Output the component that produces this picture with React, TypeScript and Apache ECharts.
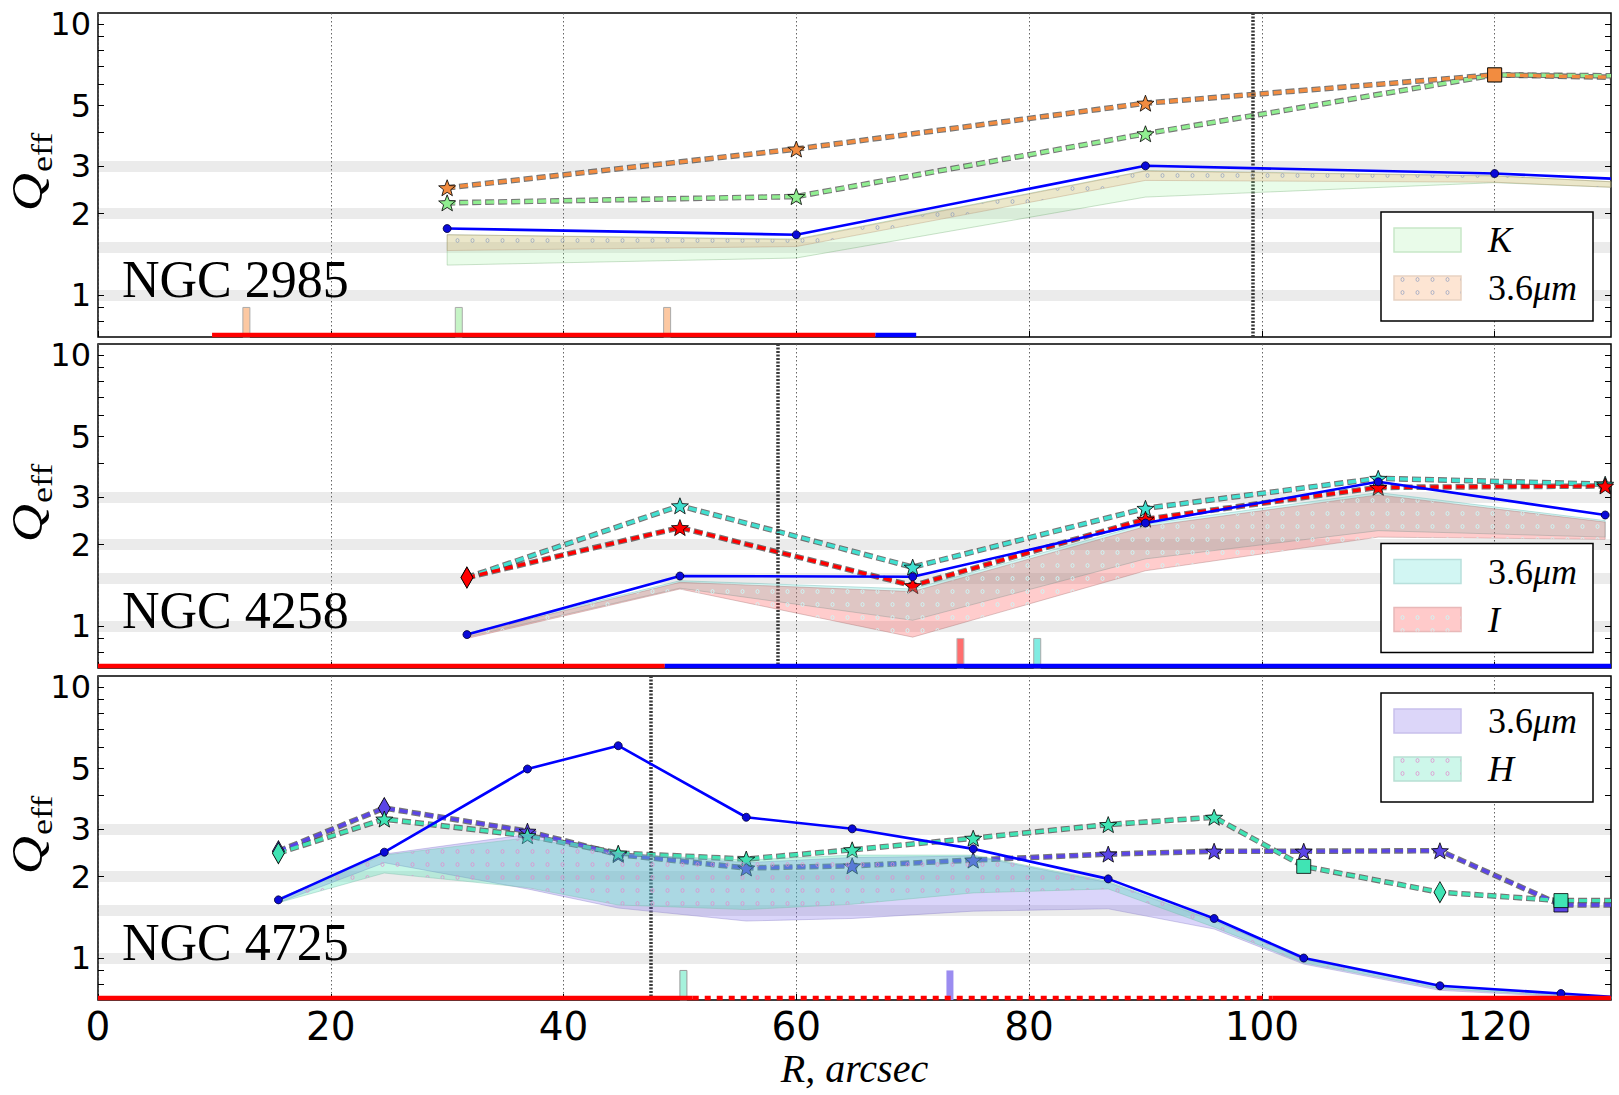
import React, { useEffect, useRef } from "react";
import * as echarts from "echarts";

// ---------------- data ----------------
const xTickValues = [0, 20, 40, 60, 80, 100, 120];
const yLabelValues = [1, 2, 3, 5, 10];
const yTickValues = [0.8, 0.9, 1, 2, 3, 4, 5, 6, 7, 8, 9, 10];
const refLevels = [1, 1.5, 2, 3];
const galaxyNames = ["NGC 2985", "NGC 4258", "NGC 4725"];
const Y_MIN = 0.7;
const Y_MAX = 11;
const X_MAX = 130;
const STRIP_Q = 0.712;
const BAR_TOP = 0.9;

// NGC 2985
const r2985 = [30, 60, 90, 120, 130];
const gas2985 = [1.76, 1.67, 3.0, 2.81, 2.69];
const gasSym2985 = ["circle", "circle", "circle", "circle", "none"];
const mu36_2985 = [2.49, 3.46, 5.11, 6.5, 6.37];
const k2985 = [2.19, 2.31, 3.94, 6.5, 6.45];
const sym2985 = ["star", "star", "star", "rect", "none"];
const bandK2985Lo = [1.29, 1.37, 2.3, 2.6, 2.5];
const bandK2985Hi = [1.67, 1.61, 2.88, 2.76, 2.62];
const band36_2985Lo = [1.46, 1.51, 2.65, 2.61, 2.5];
const band36_2985Hi = [1.67, 1.6, 2.87, 2.75, 2.62];
const bars2985_36 = [12.75, 48.9];
const bars2985_K = [31.0];
const strip2985Red = [9.8, 66.8];
const strip2985Blue = [66.8, 70.3];
const corot2985 = 99.2;

// NGC 4258
const r4258 = [31.7, 50, 70, 90, 110, 129.5];
const gas4258 = [0.93, 1.53, 1.52, 2.4, 3.41, 2.57];
const gasSym4258 = ["circle", "circle", "circle", "circle", "circle", "circle"];
const mu36_4258 = [1.51, 2.78, 1.65, 2.72, 3.51, 3.34];
const i4258 = [1.51, 2.31, 1.41, 2.48, 3.25, 3.29];
const sym4258 = ["diamond", "star", "star", "star", "star", "star"];
const band36_4258Lo = [0.91, 1.38, 1.05, 1.77, 2.25, 2.13];
const band36_4258Hi = [0.94, 1.47, 1.37, 2.38, 3.11, 2.45];
const bandI4258Lo = [0.9, 1.37, 0.91, 1.6, 2.13, 2.09];
const bandI4258Hi = [0.93, 1.45, 1.34, 2.33, 3.05, 2.42];
const bars4258_I = [74.1];
const bars4258_36 = [80.7];
const strip4258Red = [0, 48.7];
const strip4258Blue = [48.7, 130];
const corot4258 = 58.4;

// NGC 4725
const r4725 = [15.5, 24.6, 36.9, 44.7, 55.7, 64.8, 75.2, 86.8, 95.9, 103.6, 115.3, 125.7, 130];
const gas4725 = [1.64, 2.46, 4.99, 6.08, 3.31, 3.0, 2.53, 1.96, 1.4, 1.0, 0.79, 0.74, 0.72];
const gasSym4725 = ["circle", "circle", "circle", "circle", "circle", "circle", "circle", "circle", "circle", "circle", "circle", "circle", "none"];
const mu36_4725 = [2.48, 3.58, 2.94, 2.41, 2.15, 2.19, 2.3, 2.42, 2.48, 2.48, 2.49, 1.57, 1.57];
const sym36_4725 = ["diamond", "diamond", "star", "star", "star", "star", "star", "star", "star", "star", "star", "rect", "none"];
const h4725 = [2.44, 3.26, 2.83, 2.44, 2.32, 2.51, 2.77, 3.11, 3.31, 2.18, 1.75, 1.63, 1.63];
const symH4725 = ["diamond", "star", "star", "star", "star", "star", "star", "star", "star", "rect", "diamond", "rect", "none"];
const band36_4725Lo = [1.6, 2.25, 1.8, 1.53, 1.37, 1.4, 1.49, 1.52, 1.28, 0.95, 0.76, 0.72, 0.705];
const band36_4725Hi = [1.66, 2.42, 2.86, 2.44, 2.25, 2.35, 2.38, 1.9, 1.37, 0.99, 0.79, 0.735, 0.72];
const bandH4725Lo = [1.6, 2.06, 1.82, 1.57, 1.51, 1.58, 1.74, 1.8, 1.3, 0.96, 0.77, 0.725, 0.71];
const bandH4725Hi = [1.66, 2.4, 2.78, 2.42, 2.3, 2.4, 2.4, 1.92, 1.38, 0.99, 0.79, 0.735, 0.72];
const bars4725_H = [50.3];
const bars4725_36 = [73.2];
const strip4725Red = [0, 51.1];
const strip4725Dash = [51.1, 100.9];
const strip4725Red2 = [100.9, 130];
const corot4725 = 47.5;

// ---------------- layout ----------------
const G_LEFT = 98;
const G_W = 1513;
const G_TOPS = [13, 344, 676];
const G_H = 324;
const LEGEND_TOPS = [212, 543.5, 693];
const LEGEND_LEFT = 1381;

const STAR = (() => {
  let d = "";
  for (let k = 0; k < 10; k++) {
    const r = k % 2 === 0 ? 1 : 0.42;
    const a = -Math.PI / 2 + (k * Math.PI) / 5;
    d += (k === 0 ? "M" : "L") + (r * Math.cos(a)).toFixed(4) + "," + (r * Math.sin(a)).toFixed(4) + " ";
  }
  return "path://" + d + "Z";
})();

function symOf(s: string) {
  return s === "star" ? STAR : s;
}
function sizeOf(s: string): any {
  if (s === "star") return [17, 16];
  if (s === "diamond") return [12, 21];
  if (s === "rect") return [14, 14];
  if (s === "circle") return 8;
  return 0;
}

function makeDots(color: string) {
  const c = document.createElement("canvas");
  c.width = 15;
  c.height = 13;
  const ctx = c.getContext("2d")!;
  ctx.strokeStyle = color;
  ctx.lineWidth = 1;
  ctx.beginPath();
  ctx.ellipse(7.5, 6.5, 1.5, 2, 0, 0, Math.PI * 2);
  ctx.stroke();
  return { image: c, repeat: "repeat", imageWidth: 15, imageHeight: 13 } as any;
}

export default function App() {
  const ref = useRef<HTMLDivElement>(null);

  useEffect(() => {
    document.body.style.margin = "0";
    const chart = echarts.init(ref.current!, null as any, { renderer: "svg" });

    const dots2985 = makeDots("rgba(130,150,190,0.6)");
    const dots4258 = makeDots("rgba(205,245,245,0.95)");
    const dots4725 = makeDots("rgba(225,140,205,0.75)");

    const grids = G_TOPS.map((t) => ({
      left: G_LEFT,
      top: t,
      width: G_W,
      height: G_H,
      show: true,
      borderColor: "#000",
      borderWidth: 1.5,
      backgroundColor: "rgba(0,0,0,0)",
      containLabel: false,
      outerBoundsMode: "none",
    }));

    const xAxes = G_TOPS.map((_, g) => ({
      type: "value",
      gridIndex: g,
      min: 0,
      max: X_MAX,
      interval: 20,
      axisLine: { show: false },
      axisTick: { show: true, inside: true, length: 6, lineStyle: { color: "#000", width: 1 }, customValues: xTickValues },
      axisLabel: {
        show: g === 2,
        customValues: xTickValues,
        fontSize: 39,
        fontFamily: "DejaVu Sans",
        color: "#000",
        margin: 7,
        formatter: (v: number) => (v === X_MAX ? "" : String(v)),
      },
      splitLine: { show: true, lineStyle: { color: "#555", width: 0.9, type: [1.5, 2.5] } },
    }));

    const yAxes: any[] = [];
    G_TOPS.forEach((_, g) => {
      const base = {
        type: "log",
        logBase: 10,
        gridIndex: g,
        min: Y_MIN,
        max: Y_MAX,
        axisLine: { show: false },
        splitLine: { show: false },
        minorTick: { show: false },
        axisTick: { show: true, inside: true, length: 6, lineStyle: { color: "#000", width: 1 }, customValues: yTickValues },
      };
      yAxes.push({
        ...base,
        position: "left",
        axisLabel: { customValues: yLabelValues, fontSize: 32, fontFamily: "DejaVu Sans", color: "#000", margin: 7 },
      });
      yAxes.push({ ...base, position: "right", axisLabel: { show: false } });
    });

    const series: any[] = [];

    const refSeries = (g: number) => ({
      type: "line",
      xAxisIndex: g,
      yAxisIndex: 2 * g,
      data: [[0, 1]],
      symbol: "none",
      lineStyle: { width: 0, opacity: 0 },
      silent: true,
      z: -1,
      emphasis: { disabled: true },
      markLine: {
        silent: true,
        z: -1,
        symbol: ["none", "none"],
        label: { show: false },
        emphasis: { disabled: true },
        lineStyle: { color: "#ebebeb", width: 11, type: "solid" },
        data: refLevels.map((v) => ({ yAxis: v })),
      },
    });

    const corotSeries = (g: number, x: number) => ({
      type: "line",
      xAxisIndex: g,
      yAxisIndex: 2 * g,
      data: [[x, 1]],
      symbol: "none",
      lineStyle: { width: 0, opacity: 0 },
      silent: true,
      z: 5,
      emphasis: { disabled: true },
      markLine: {
        silent: true,
        z: 5,
        symbol: ["none", "none"],
        label: { show: false },
        emphasis: { disabled: true },
        lineStyle: { color: "#3a3a3a", width: 3.5, type: [2, 1.5] },
        data: [{ xAxis: x }],
      },
    });

    const bandSeries = (g: number, xs: number[], lo: number[], hi: number[], fill: string, stroke: string, pattern: any, z: number) => ({
      type: "custom",
      xAxisIndex: g,
      yAxisIndex: 2 * g,
      silent: true,
      z,
      data: xs.map((x, i) => [x, lo[i], hi[i]]),
      encode: { x: 0, y: [1, 2] },
      renderItem: (params: any, api: any) => {
        if (params.dataIndex !== 0) return null;
        const pts: number[][] = [];
        for (let i = 0; i < xs.length; i++) pts.push(api.coord([xs[i], hi[i]]));
        for (let i = xs.length - 1; i >= 0; i--) pts.push(api.coord([xs[i], lo[i]]));
        const children: any[] = [{ type: "polygon", shape: { points: pts }, style: { fill, stroke, lineWidth: 1 } }];
        if (pattern) children.push({ type: "polygon", shape: { points: pts }, style: { fill: pattern, stroke: null } });
        return { type: "group", children };
      },
    });

    const dashedPair = (g: number, xs: number[], ys: number[], syms: string[], color: string) => [
      {
        type: "line",
        xAxisIndex: g,
        yAxisIndex: 2 * g,
        data: xs.map((x, i) => [x, ys[i]]),
        symbol: "none",
        silent: true,
        z: 3,
        emphasis: { disabled: true },
        lineStyle: { color: "rgba(60,60,60,0.7)", width: 5.6, type: [9, 4], dashOffset: 0.5 },
      },
      {
        type: "line",
        xAxisIndex: g,
        yAxisIndex: 2 * g,
        data: xs.map((x, i) => ({ value: [x, ys[i]], symbol: symOf(syms[i]), symbolSize: sizeOf(syms[i]) })),
        showAllSymbol: true,
        silent: true,
        z: 4,
        emphasis: { disabled: true },
        lineStyle: { color, width: 3.4, type: [8, 5] },
        itemStyle: { color, borderColor: "#000", borderWidth: 0.8 },
      },
    ];

    const gasSeries = (g: number, xs: number[], ys: number[], syms: string[]) => ({
      type: "line",
      xAxisIndex: g,
      yAxisIndex: 2 * g,
      data: xs.map((x, i) => ({ value: [x, ys[i]], symbol: symOf(syms[i]), symbolSize: sizeOf(syms[i]) })),
      showAllSymbol: true,
      silent: true,
      z: 7,
      emphasis: { disabled: true },
      lineStyle: { color: "#0000ff", width: 2.6 },
      itemStyle: { color: "#0a0ad8", borderColor: "#000033", borderWidth: 0.8 },
    });

    const stripSeries = (g: number, seg: number[], color: string, dashed: boolean) => ({
      type: "line",
      xAxisIndex: g,
      yAxisIndex: 2 * g,
      data: [
        [seg[0], STRIP_Q],
        [seg[1], STRIP_Q],
      ],
      symbol: "none",
      silent: true,
      clip: false,
      z: 8,
      emphasis: { disabled: true },
      lineStyle: { color, width: 4.5, type: dashed ? [6, 6] : "solid", cap: "butt" },
    });

    const barSeries = (g: number, xs: number[], fill: string, stroke: string) => ({
      type: "custom",
      xAxisIndex: g,
      yAxisIndex: 2 * g,
      silent: true,
      z: 8,
      data: xs.map((x) => [x, BAR_TOP]),
      renderItem: (params: any, api: any) => {
        const p = api.coord([api.value(0), api.value(1)]);
        const b = api.coord([api.value(0), Y_MIN]);
        return {
          type: "rect",
          shape: { x: p[0] - 3.5, y: p[1], width: 7, height: b[1] - p[1] },
          style: { fill, stroke, lineWidth: stroke === "none" ? 0 : 1 },
        };
      },
    });

    // panel 0: NGC 2985
    series.push(refSeries(0));
    series.push(...dashedPair(0, r2985, k2985, sym2985, "#90ee90"));
    series.push(...dashedPair(0, r2985, mu36_2985, sym2985, "#f28c40"));
    series.push(bandSeries(0, r2985, bandK2985Lo, bandK2985Hi, "rgba(144,238,144,0.2)", "rgba(110,170,110,0.35)", null, 5));
    series.push(bandSeries(0, r2985, band36_2985Lo, band36_2985Hi, "rgba(244,150,80,0.2)", "rgba(180,140,110,0.35)", dots2985, 5));
    series.push(gasSeries(0, r2985, gas2985, gasSym2985));
    series.push(corotSeries(0, corot2985));
    series.push(stripSeries(0, strip2985Red, "#ff0000", false));
    series.push(stripSeries(0, strip2985Blue, "#0000ff", false));
    series.push(barSeries(0, bars2985_36, "#fcc8a2", "#aaaaaa"));
    series.push(barSeries(0, bars2985_K, "#c6f4c6", "#aaaaaa"));

    // panel 1: NGC 4258
    series.push(refSeries(1));
    series.push(...dashedPair(1, r4258, mu36_4258, sym4258, "#40e0d0"));
    series.push(...dashedPair(1, r4258, i4258, sym4258, "#ff0000"));
    series.push(bandSeries(1, r4258, band36_4258Lo, band36_4258Hi, "rgba(64,224,208,0.22)", "rgba(100,180,175,0.4)", null, 5));
    series.push(bandSeries(1, r4258, bandI4258Lo, bandI4258Hi, "rgba(255,40,40,0.24)", "rgba(170,120,120,0.4)", dots4258, 5));
    series.push(gasSeries(1, r4258, gas4258, gasSym4258));
    series.push(corotSeries(1, corot4258));
    series.push(stripSeries(1, strip4258Red, "#ff0000", false));
    series.push(stripSeries(1, strip4258Blue, "#0000ff", false));
    series.push(barSeries(1, bars4258_I, "#ff6e6e", "#bbbbbb"));
    series.push(barSeries(1, bars4258_36, "#80ece2", "#aaaaaa"));

    // panel 2: NGC 4725
    series.push(refSeries(2));
    series.push(...dashedPair(2, r4725, mu36_4725, sym36_4725, "#5b45e6"));
    series.push(...dashedPair(2, r4725, h4725, symH4725, "#40e4b4"));
    series.push(bandSeries(2, r4725, band36_4725Lo, band36_4725Hi, "rgba(123,104,238,0.28)", "rgba(140,130,200,0.4)", null, 5));
    series.push(bandSeries(2, r4725, bandH4725Lo, bandH4725Hi, "rgba(64,224,176,0.3)", "rgba(120,190,170,0.4)", dots4725, 5));
    series.push(gasSeries(2, r4725, gas4725, gasSym4725));
    series.push(corotSeries(2, corot4725));
    series.push(stripSeries(2, strip4725Red, "#ff0000", false));
    series.push(stripSeries(2, strip4725Dash, "#ff0000", true));
    series.push(stripSeries(2, strip4725Red2, "#ff0000", false));
    series.push(barSeries(2, bars4725_H, "#a6f2dc", "#999999"));
    series.push(barSeries(2, bars4725_36, "#9b8cf0", "none"));

    // graphics: legends, labels, axis titles
    const serif = "'Liberation Serif', 'DejaVu Serif', serif";
    const legendDefs = [
      [
        { label: "{i|K}", fill: "#e9fbe9", edge: "#c8e8c8", dots: null },
        { label: "{n|3.6}{i|μm}", fill: "#fde5d3", edge: "#e8d2c2", dots: dots2985 },
      ],
      [
        { label: "{n|3.6}{i|μm}", fill: "#d2f6f3", edge: "#b8e0dc", dots: null },
        { label: "{i|I}", fill: "#ffcaca", edge: "#e8b8b8", dots: dots4258 },
      ],
      [
        { label: "{n|3.6}{i|μm}", fill: "#dcd6f9", edge: "#c8c0ec", dots: null },
        { label: "{i|H}", fill: "#cdf7ea", edge: "#b8e0d4", dots: dots4725 },
      ],
    ];
    const rich = {
      n: { fontFamily: serif, fontSize: 36, fill: "#000", color: "#000" },
      i: { fontFamily: serif, fontStyle: "italic", fontSize: 36, fill: "#000", color: "#000" },
    };
    const ZG = 200;
    const graphic: any[] = [];
    legendDefs.forEach((defs, g) => {
      const lx = LEGEND_LEFT;
      const ly = LEGEND_TOPS[g];
      graphic.push({
        type: "rect",
        z: ZG,
        shape: { x: lx, y: ly, width: 212, height: 109 },
        style: { fill: "#fff", stroke: "#000", lineWidth: 1.5 },
      });
      defs.forEach((d, k) => {
        const sy = ly + (k === 0 ? 16 : 64);
        graphic.push({
          type: "rect",
          z: ZG + 1,
          shape: { x: lx + 13, y: sy, width: 67, height: 24 },
          style: { fill: d.fill, stroke: d.edge, lineWidth: 1.5 },
        });
        if (d.dots)
          graphic.push({
            type: "rect",
            z: ZG + 2,
            shape: { x: lx + 13, y: sy, width: 67, height: 24 },
            style: { fill: d.dots, stroke: null },
          });
        graphic.push({
          type: "text",
          z: ZG + 3,
          x: lx + 107,
          y: sy + 12,
          style: { text: d.label, rich, align: "left", textAlign: "left", verticalAlign: "middle", textVerticalAlign: "middle" },
        });
      });

      graphic.push({
        type: "text",
        x: 122,
        y: G_TOPS[g] + 266,
        z: ZG,
        style: {
          text: galaxyNames[g],
          fontFamily: serif,
          fontSize: 52,
          fill: "#000",
          align: "left",
          textAlign: "left",
          verticalAlign: "middle",
          textVerticalAlign: "middle",
        },
      });

      graphic.push({
        type: "text",
        x: 28,
        y: G_TOPS[g] + G_H / 2 - 3,
        rotation: Math.PI / 2,
        scaleX: 1.2,
        z: ZG,
        style: {
          text: "{q|Q}{e|eff}",
          align: "center",
          textAlign: "center",
          verticalAlign: "middle",
          textVerticalAlign: "middle",
          rich: {
            q: { fontFamily: serif, fontStyle: "italic", fontSize: 44, lineHeight: 44, verticalAlign: "top", fill: "#000", color: "#000" },
            e: { fontFamily: serif, fontSize: 30, lineHeight: 30, verticalAlign: "top", padding: [21, 0, 0, 1], fill: "#000", color: "#000" },
          },
        },
      });
    });
    graphic.push({
      type: "text",
      x: G_LEFT + G_W / 2,
      y: 1068,
      z: ZG,
      style: {
        text: "R, arcsec",
        fontFamily: serif,
        fontStyle: "italic",
        fontSize: 40,
        fill: "#000",
        align: "center",
        textAlign: "center",
        verticalAlign: "middle",
        textVerticalAlign: "middle",
      },
    });

    chart.setOption({
      animation: false,
      backgroundColor: "#fff",
      grid: grids,
      xAxis: xAxes,
      yAxis: yAxes,
      series,
      graphic,
    });

    return () => chart.dispose();
  }, []);

  return <div ref={ref} style={{ width: 1619, height: 1095 }} />;
}
